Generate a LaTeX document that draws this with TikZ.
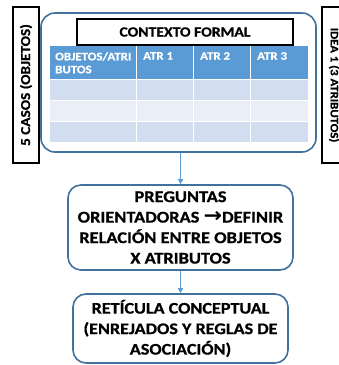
\documentclass[tikz,border=0pt]{standalone}
\usepackage{fontspec}
\usepackage{graphicx}
\setmainfont{Carlito}[BoldFont={Carlito Bold}]
\newfontfamily\cbold{Carlito Bold}[FakeStretch=1.12, FakeBold=0.8]
\newfontfamily\arrowfont{DejaVu Sans Bold}
\usetikzlibrary{arrows.meta}
\definecolor{boxblue}{HTML}{41719C}
\definecolor{hdr}{HTML}{5B9BD5}
\definecolor{rowA}{HTML}{D2DEEF}
\definecolor{rowB}{HTML}{EAEFF7}
\definecolor{arrowblue}{HTML}{5B9BD5}
\tikzset{
  sidebox/.style={draw=black, line width=2pt, fill=white, inner sep=0pt},
  flowbox/.style={draw=boxblue, line width=1.6pt, rounded corners=13pt, fill=white,
    align=center, inner sep=0pt},
  hdrtext/.style={anchor=north west, text=white, inner sep=0pt, align=left,
    font=\cbold\fontsize{11.5}{13}\selectfont},
  flowarrow/.style={draw=arrowblue, line width=1.2pt, -{Triangle[length=5pt,width=5pt]}},
}
\begin{document}
\begin{tikzpicture}[x=1pt,y=-1pt]
\useasboundingbox (0,0) rectangle (339,365);
% side boxes
\node[sidebox, minimum width=156, minimum height=26, rotate=90,
  font=\cbold\fontsize{13.6}{15}\selectfont] (objs) at (26,85) {5 CASOS (OBJETOS)};
\node[sidebox, minimum width=156, minimum height=24, rotate=-90,
  font=\cbold\fontsize{11.4}{15}\selectfont] (atrs) at (334,85) {IDEA 1 (3 ATRIBUTOS)};
% main frame
\node[draw=boxblue, line width=1.6pt, rounded corners=14pt, fill=white,
  minimum width=275, minimum height=139, inner sep=0pt] (frame) at (178.5,82.5) {};
% title
\node[draw=black, line width=2pt, fill=white, minimum width=216, minimum height=26,
  inner sep=0pt, font=\cbold\fontsize{14}{16}\selectfont] (title) at (185,32) {CONTEXTO FORMAL};
% table cells
\foreach \xa/\xb in {50/136, 137/193, 194/250, 251/308}{
  \fill[hdr] (\xa,46) rectangle (\xb,79);
  \fill[rowA] (\xa,80) rectangle (\xb,100);
  \fill[rowB] (\xa,101) rectangle (\xb,121);
  \fill[rowA] (\xa,122) rectangle (\xb,142);
}
\node[hdrtext] (h0) at (55,52) {OBJETOS/ATRI\\BUTOS};
\node[hdrtext] (h1) at (143,52) {ATR 1};
\node[hdrtext] (h2) at (200,52) {ATR 2};
\node[hdrtext] (h3) at (257,52) {ATR 3};
% flow boxes
\node[flowbox, minimum width=225, minimum height=85,
  font=\cbold\fontsize{16.4}{20.5}\selectfont] (b2) at (180.5,227.5)
  {PREGUNTAS\\ORIENTADORAS {\arrowfont\scalebox{1.35}[1.25]{→}}DEFINIR\\RELACIÓN ENTRE OBJETOS\\X ATRIBUTOS};
\node[flowbox, minimum width=215, minimum height=69,
  font=\cbold\fontsize{16.2}{20.5}\selectfont] (b3) at (180.5,328.5)
  {RETÍCULA CONCEPTUAL\\(ENREJADOS Y REGLAS DE\\ASOCIACIÓN)};
% arrows
\draw[flowarrow] (b2.north |- frame.south) -- (b2.north);
\draw[flowarrow] (b2.south) -- (b3.north);
\end{tikzpicture}
\end{document}
